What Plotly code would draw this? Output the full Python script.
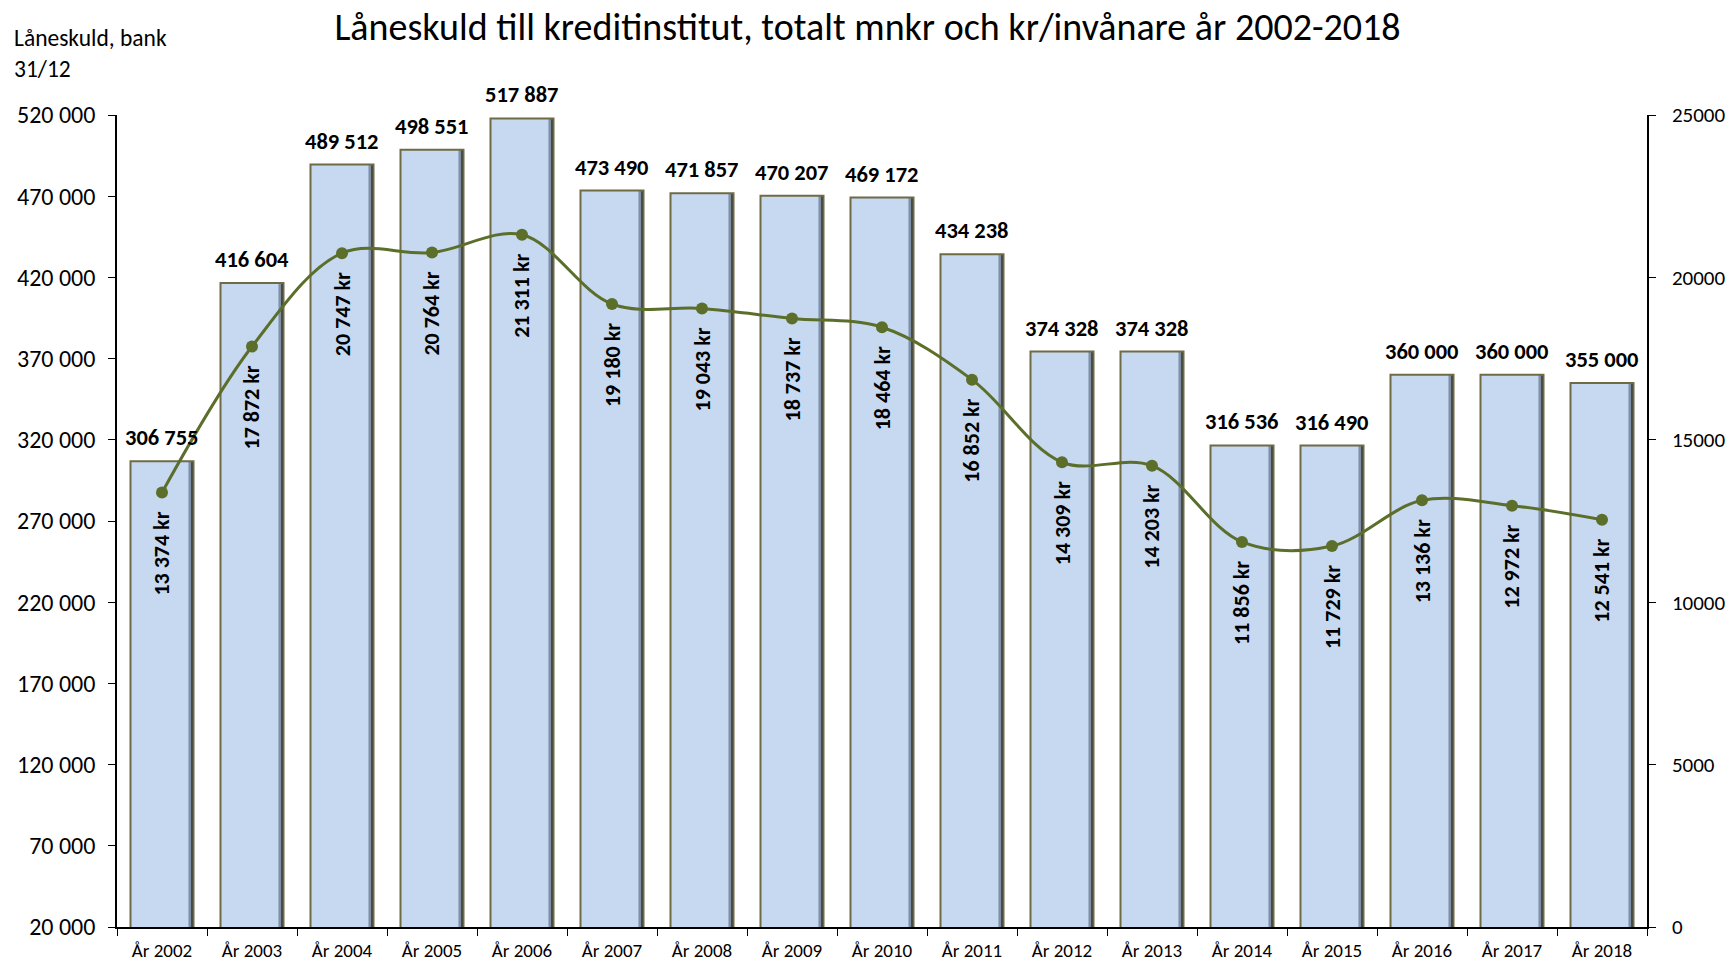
import plotly.graph_objects as go

years = ["År 2002", "År 2003", "År 2004", "År 2005", "År 2006", "År 2007", "År 2008", "År 2009",
         "År 2010", "År 2011", "År 2012", "År 2013", "År 2014", "År 2015", "År 2016", "År 2017", "År 2018"]
debt_total = [306755, 416604, 489512, 498551, 517887, 473490, 471857, 470207,
              469172, 434238, 374328, 374328, 316536, 316490, 360000, 360000, 355000]
debt_per_capita = [13374, 17872, 20747, 20764, 21311, 19180, 19043, 18737,
                   18464, 16852, 14309, 14203, 11856, 11729, 13136, 12972, 12541]
left_ticks = list(range(20000, 520001, 50000))
right_ticks = list(range(0, 25001, 5000))

FONT = "Carlito, Lato, sans-serif"
LINE_COLOR = "#5B6E2A"
OUTLINE = "#6F6B45"

W, H = 1735, 961
L, R, T, B = 117, 88, 115, 34
PH = H - T - B
PW = W - L - R

fig = go.Figure()

# bevel-like bars: dark shadow band, mid band, light face, then outline
bands = [("#2E333C", 0.70, -0.35), ("#7F90A6", 0.675, -0.35), ("#C6D9F1", 0.64, -0.346)]
for col, wd, off in bands:
    fig.add_trace(go.Bar(
        x=years, y=debt_total, width=wd, offset=off,
        marker=dict(color=col, line=dict(width=0)),
        yaxis="y", showlegend=False, hoverinfo="skip",
    ))
fig.add_trace(go.Bar(
    x=years, y=debt_total, width=0.70, offset=-0.35,
    marker=dict(color="rgba(0,0,0,0)", line=dict(color=OUTLINE, width=2)),
    yaxis="y", showlegend=False,
))

fig.add_trace(go.Scatter(
    x=years, y=debt_per_capita, yaxis="y2", mode="lines+markers",
    line=dict(color=LINE_COLOR, width=3, shape="spline", smoothing=1),
    marker=dict(color=LINE_COLOR, size=12),
    showlegend=False,
))

def fmt(v):
    return f"{v:,d}".replace(",", " ")

for yr, v in zip(years, debt_total):
    fig.add_annotation(
        x=yr, y=v, xref="x", yref="y", text=f"<b>{fmt(v)}</b>",
        showarrow=False, yanchor="bottom", yshift=8,
        font=dict(family=FONT, size=22.5, color="black"),
    )

for yr, v in zip(years, debt_per_capita):
    fig.add_annotation(
        x=yr, y=v, xref="x", yref="y2", text=f"<b>{fmt(v)} kr</b>",
        textangle=-90, showarrow=False, yanchor="top", yshift=-17,
        font=dict(family=FONT, size=22, color="black"),
    )

fig.add_annotation(
    x=(12 - L) / PW, y=(H - B - 22) / PH, xref="paper", yref="paper",
    text="Låneskuld, bank<br>31/12",
    showarrow=False, xanchor="left", yanchor="top", align="left",
    font=dict(family=FONT, size=23.5, color="black"),
)

fig.update_layout(
    width=W, height=H,
    margin=dict(l=L, r=R, t=T, b=B, autoexpand=False),
    paper_bgcolor="white", plot_bgcolor="white",
    separators=", ",
    barmode="overlay",
    title=dict(text="Låneskuld till kreditinstitut, totalt mnkr och kr/invånare år 2002-2018",
               x=0.5, xanchor="center", y=1 - 27 / H, yanchor="middle",
               font=dict(family=FONT, size=38, color="black")),
    xaxis=dict(range=[-0.5, len(years) - 0.5],
               showline=True, linecolor="black", linewidth=1.5, ticks="outside",
               tickson="boundaries", ticklen=7, tickcolor="black", showgrid=False,
               automargin=False, ticklabelstandoff=5,
               tickfont=dict(family=FONT, size=19, color="black")),
    yaxis=dict(range=[20000, 520000], tickvals=left_ticks, tickformat=",d",
               showline=True, linecolor="black", linewidth=1.5, ticks="outside",
               ticklen=7, tickcolor="black", showgrid=False, zeroline=False,
               automargin=False, ticklabelstandoff=8,
               tickfont=dict(family=FONT, size=24, color="black")),
    yaxis2=dict(range=[0, 25000], tickvals=right_ticks, tickformat="d", overlaying="y",
                side="right", showline=True, linecolor="black", linewidth=1.5,
                ticks="outside", ticklen=7, tickcolor="black", showgrid=False,
                zeroline=False, automargin=False, ticklabelstandoff=12,
                tickfont=dict(family=FONT, size=21, color="black")),
    yaxis3=dict(range=[20000, 520000], tickvals=left_ticks, overlaying="y", side="left",
                showline=False, ticks="inside", ticklen=7, tickcolor="black",
                showticklabels=False, showgrid=False, zeroline=False, automargin=False),
    yaxis4=dict(range=[0, 25000], tickvals=right_ticks, overlaying="y", side="right",
                showline=False, ticks="inside", ticklen=7, tickcolor="black",
                showticklabels=False, showgrid=False, zeroline=False, automargin=False),
)

fig.write_html("out.html", config={"displayModeBar": False},
               post_script="document.body.style.margin='0';document.body.style.overflow='hidden';")
